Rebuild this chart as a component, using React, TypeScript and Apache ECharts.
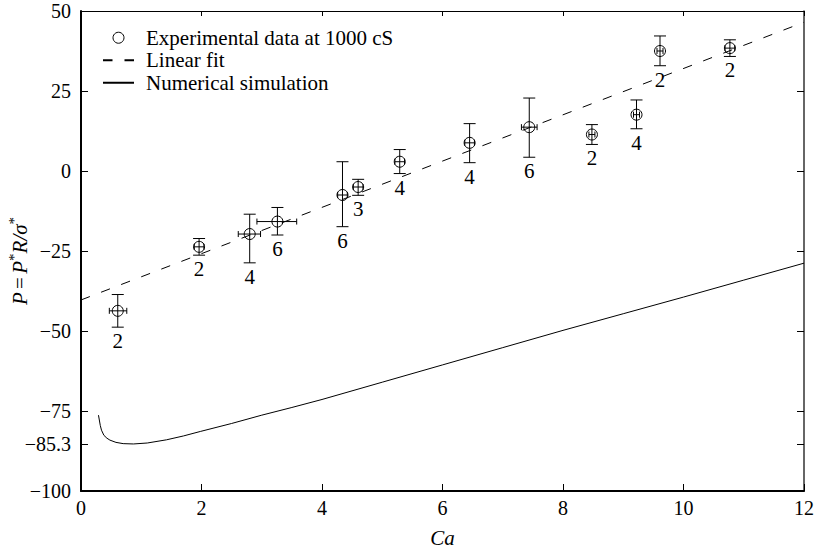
import React, { useEffect, useRef } from "react";
import * as echarts from "echarts";

// Experimental data (Ca, P) with error bars and number of runs
const caValues = [0.61, 1.96, 2.8, 3.26, 4.34, 4.6, 5.29, 6.45, 7.44, 8.48, 9.22, 9.61, 10.77];
const pValues = [-43.7, -23.7, -19.7, -15.8, -7.5, -5.0, 2.9, 8.8, 13.7, 11.4, 17.6, 37.5, 38.4];
const pHigh = [-38.6, -21.1, -13.5, -11.4, 2.9, -2.6, 6.7, 14.8, 22.8, 14.5, 22.2, 42.2, 41.0];
const pLow = [-48.8, -26.3, -28.7, -20.0, -17.4, -7.6, -0.8, 2.6, 4.3, 8.3, 13.2, 32.9, 35.8];
const caLow = [0.47, 1.88, 2.61, 2.92, 4.26, 4.52, 5.21, 6.37, 7.31, 8.43, 9.17, 9.56, 10.69];
const caHigh = [0.76, 2.04, 2.98, 3.58, 4.42, 4.68, 5.37, 6.53, 7.57, 8.53, 9.27, 9.66, 10.85];
const runCounts = [2, 2, 4, 6, 6, 3, 4, 4, 6, 2, 4, 2, 2];

// Linear fit end points
const fitCa = [0, 12];
const fitP = [-40.3, 46.5];

// Numerical simulation curve
const simCa = [0.29, 0.32, 0.34, 0.38, 0.43, 0.48, 0.58, 0.7, 0.87, 1.1, 1.42, 1.7, 1.98, 2.5, 3, 3.5, 4, 5, 6, 7, 8, 9, 10, 11, 12];
const simP = [-76.3, -79.5, -81.0, -82.6, -83.5, -84.1, -84.8, -85.2, -85.3, -85.0, -84.0, -82.8, -81.4, -78.9, -76.3, -73.9, -71.4, -66.0, -60.6, -55.2, -49.8, -44.6, -39.4, -34.1, -28.8];

// Axis ticks
const yTicks = [-100, -85.3, -75, -50, -25, 0, 25, 50];
const xTickInterval = 2;

const FONT = "Liberation Serif";
const fmtNum = (v: number) => (v < 0 ? "\u2212" + String(Math.abs(v)) : String(v));

export default function App() {
  const ref = useRef<HTMLDivElement>(null);
  useEffect(() => {
    if (!ref.current) return;
    const chart = echarts.init(ref.current, null, { renderer: "svg" });
    const expData = caValues.map((x, i) => [x, pValues[i], pLow[i], pHigh[i], caLow[i], caHigh[i], runCounts[i]]);
    const hiddenSymbol = { color: "rgba(0,0,0,0)", borderColor: "rgba(0,0,0,0)", borderWidth: 0 };
    const option: any = {
      animation: false,
      color: ["#000"],
      textStyle: { fontFamily: FONT, color: "#000" },
      grid: { left: 81, right: 15, top: 11, bottom: 60 },
      legend: {
        orient: "vertical",
        left: 102,
        top: 26.5,
        padding: 0,
        itemWidth: 31,
        itemHeight: 11,
        itemGap: 0,
        textStyle: { fontFamily: FONT, fontSize: 21, color: "#000", lineHeight: 22.5, padding: [0, 0, 0, 7] },
        data: [
          { name: "Experimental data at 1000 cS", icon: "circle", itemStyle: { color: "#fff", borderColor: "#000", borderWidth: 1 } },
          { name: "Linear fit", itemStyle: hiddenSymbol },
          { name: "Numerical simulation", itemStyle: hiddenSymbol },
        ],
      },
      xAxis: [
        {
          type: "value",
          min: 0,
          max: 12,
          interval: xTickInterval,
          position: "bottom",
          name: "Ca",
          nameLocation: "middle",
          nameGap: 36,
          nameTextStyle: { fontFamily: FONT, fontSize: 21, fontStyle: "italic", color: "#000" },
          axisLine: { show: true, onZero: false, lineStyle: { color: "#000", width: 2 } },
          axisTick: { show: true, inside: true, length: 7, lineStyle: { color: "#000" } },
          axisLabel: { fontFamily: FONT, fontSize: 20, color: "#000", margin: 7, formatter: fmtNum },
          splitLine: { show: false },
        },
        {
          type: "value",
          min: 0,
          max: 12,
          interval: xTickInterval,
          position: "top",
          axisLine: { show: true, onZero: false, lineStyle: { color: "#000", width: 1 } },
          axisTick: { show: true, inside: true, length: 5, lineStyle: { color: "#000" } },
          axisLabel: { show: false },
          splitLine: { show: false },
        },
      ],
      yAxis: [
        {
          type: "value",
          min: -100,
          max: 50,
          position: "left",
          axisLine: { show: true, onZero: false, lineStyle: { color: "#000", width: 2 } },
          axisTick: { show: true, inside: true, length: 7, customValues: yTicks, lineStyle: { color: "#000" } },
          axisLabel: { fontFamily: FONT, fontSize: 20, color: "#000", margin: 10, customValues: yTicks, formatter: fmtNum },
          splitLine: { show: false },
        },
        {
          type: "value",
          min: -100,
          max: 50,
          position: "right",
          axisLine: { show: true, onZero: false, lineStyle: { color: "#333", width: 1.5 } },
          axisTick: { show: true, inside: true, length: 7, customValues: yTicks, lineStyle: { color: "#000" } },
          axisLabel: { show: false, customValues: yTicks },
          splitLine: { show: false },
        },
      ],
      graphic: [
        {
          type: "text",
          x: 18,
          y: 261,
          rotation: Math.PI / 2,
          style: {
            text: "{i|P} {n|=} {i|P}{s|*}{i|R/\u03c3}{s|*}",
            align: "center",
            verticalAlign: "middle",
            fill: "#000",
            rich: {
              i: { fontFamily: FONT, fontSize: 21, fontStyle: "italic", lineHeight: 24, verticalAlign: "bottom", fill: "#000" },
              n: { fontFamily: FONT, fontSize: 21, lineHeight: 24, verticalAlign: "bottom", fill: "#000" },
              s: { fontFamily: FONT, fontSize: 15, lineHeight: 15, verticalAlign: "top", fill: "#000" },
            },
          },
        },
      ],
      series: [
        {
          name: "Experimental data at 1000 cS",
          type: "custom",
          xAxisIndex: 0,
          yAxisIndex: 0,
          encode: { x: 0, y: 1 },
          data: expData,
          renderItem: (_params: any, api: any) => {
            const x = api.value(0);
            const y = api.value(1);
            const lo = api.value(2);
            const hi = api.value(3);
            const xl = api.value(4);
            const xh = api.value(5);
            const n = api.value(6);
            const c = api.coord([x, y]);
            const t = api.coord([x, hi]);
            const b = api.coord([x, lo]);
            const l = api.coord([xl, y]);
            const r = api.coord([xh, y]);
            const st = { stroke: "#000", lineWidth: 1, fill: null };
            return {
              type: "group",
              children: [
                { type: "line", shape: { x1: c[0], y1: t[1], x2: c[0], y2: b[1] }, style: st },
                { type: "line", shape: { x1: c[0] - 6, y1: t[1], x2: c[0] + 6, y2: t[1] }, style: st },
                { type: "line", shape: { x1: c[0] - 6, y1: b[1], x2: c[0] + 6, y2: b[1] }, style: st },
                { type: "line", shape: { x1: l[0], y1: c[1], x2: r[0], y2: c[1] }, style: st },
                { type: "line", shape: { x1: l[0], y1: c[1] - 3, x2: l[0], y2: c[1] + 3 }, style: st },
                { type: "line", shape: { x1: r[0], y1: c[1] - 3, x2: r[0], y2: c[1] + 3 }, style: st },
                { type: "circle", shape: { cx: c[0], cy: c[1], r: 5.5 }, style: { stroke: "#000", lineWidth: 1, fill: "none" } },
                {
                  type: "text",
                  x: c[0],
                  y: b[1] + 14,
                  style: { text: String(n), align: "center", verticalAlign: "middle", fontFamily: FONT, fontSize: 21, fill: "#000" },
                },
              ],
            };
          },
        },
        {
          name: "Linear fit",
          type: "line",
          data: fitCa.map((x, i) => [x, fitP[i]]),
          symbol: "none",
          lineStyle: { color: "#000", width: 1, type: [9.5, 12] },
          itemStyle: { color: "#000" },
        },
        {
          name: "Numerical simulation",
          type: "line",
          data: simCa.map((x, i) => [x, simP[i]]),
          symbol: "none",
          smooth: false,
          lineStyle: { color: "#000", width: 1 },
          itemStyle: { color: "#000" },
        },
      ],
    };
    chart.setOption(option);
    return () => chart.dispose();
  }, []);
  return <div ref={ref} style={{ position: "absolute", left: 0, top: 0, width: 819, height: 553, background: "#fff" }} />;
}
